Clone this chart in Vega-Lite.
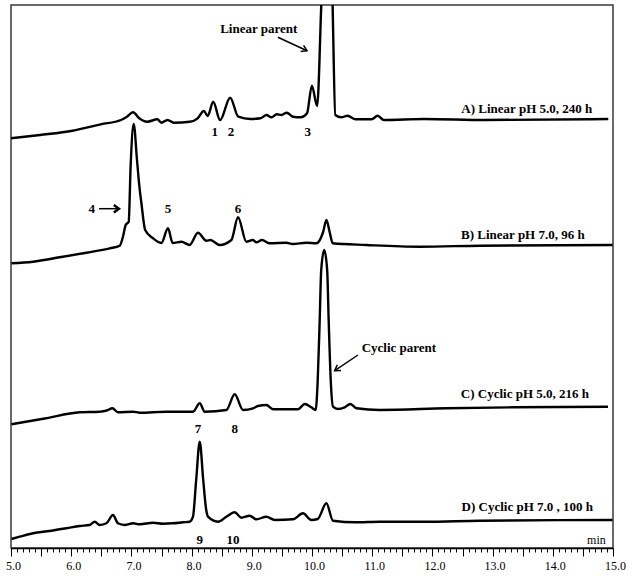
{
  "$schema": "https://vega.github.io/schema/vega-lite/v6.json",
  "width": 602,
  "height": 543,
  "autosize": {"type": "none"},
  "padding": {"left": 11, "top": 5, "right": 21, "bottom": 28},
  "background": "white",
  "config": {"view": {"stroke": "#3a3a3a", "strokeWidth": 1.5}},
  "resolve": {"axis": {"x": "independent"}},
  "datasets": {
    "traces": [
      {"trace":"A","t":5.0,"v":409.7},{"trace":"A","t":5.483,"v":413},{"trace":"A","t":6.022,"v":417.3},{"trace":"A","t":6.49,"v":423.7},{"trace":"A","t":6.827,"v":428},{"trace":"A","t":6.92,"v":431},{"trace":"A","t":7.028,"v":435.7},{"trace":"A","t":7.13,"v":429.7},{"trace":"A","t":7.264,"v":426.3},{"trace":"A","t":7.432,"v":428.7},{"trace":"A","t":7.498,"v":425.3},{"trace":"A","t":7.6,"v":428},{"trace":"A","t":7.703,"v":425.3},{"trace":"A","t":7.969,"v":426.3},{"trace":"A","t":8.101,"v":429.7},{"trace":"A","t":8.204,"v":437},{"trace":"A","t":8.267,"v":432},{"trace":"A","t":8.359,"v":446.3},{"trace":"A","t":8.473,"v":428},{"trace":"A","t":8.641,"v":450.3},{"trace":"A","t":8.776,"v":431.3},{"trace":"A","t":8.977,"v":429},{"trace":"A","t":9.144,"v":429.7},{"trace":"A","t":9.246,"v":433},{"trace":"A","t":9.326,"v":430.7},{"trace":"A","t":9.414,"v":433.7},{"trace":"A","t":9.493,"v":433},{"trace":"A","t":9.581,"v":435.3},{"trace":"A","t":9.683,"v":431.3},{"trace":"A","t":9.816,"v":430.7},{"trace":"A","t":9.917,"v":434.7},{"trace":"A","t":9.998,"v":462.3},{"trace":"A","t":10.085,"v":442},{"trace":"A","t":10.166,"v":560},{"trace":"A","t":10.251,"v":620},{"trace":"A","t":10.334,"v":560},{"trace":"A","t":10.387,"v":433},{"trace":"A","t":10.488,"v":430.7},{"trace":"A","t":10.59,"v":432.3},{"trace":"A","t":10.723,"v":428.7},{"trace":"A","t":10.992,"v":428.7},{"trace":"A","t":11.091,"v":432.3},{"trace":"A","t":11.193,"v":428},{"trace":"A","t":11.865,"v":429},{"trace":"A","t":12.872,"v":428},{"trace":"A","t":14.922,"v":429},
      {"trace":"B","t":5.007,"v":284.7},{"trace":"B","t":5.365,"v":286.3},{"trace":"B","t":5.809,"v":290.7},{"trace":"B","t":6.252,"v":295.3},{"trace":"B","t":6.64,"v":299.7},{"trace":"B","t":6.806,"v":302.3},{"trace":"B","t":6.86,"v":311.3},{"trace":"B","t":6.905,"v":323},{"trace":"B","t":6.955,"v":326.3},{"trace":"B","t":6.988,"v":383},{"trace":"B","t":7.038,"v":424},{"trace":"B","t":7.093,"v":388},{"trace":"B","t":7.13,"v":363},{"trace":"B","t":7.166,"v":345},{"trace":"B","t":7.229,"v":318},{"trace":"B","t":7.354,"v":310},{"trace":"B","t":7.498,"v":305},{"trace":"B","t":7.608,"v":319.7},{"trace":"B","t":7.686,"v":305},{"trace":"B","t":7.831,"v":306.3},{"trace":"B","t":7.968,"v":303},{"trace":"B","t":8.106,"v":315.3},{"trace":"B","t":8.246,"v":307.3},{"trace":"B","t":8.312,"v":308},{"trace":"B","t":8.467,"v":303},{"trace":"B","t":8.661,"v":308},{"trace":"B","t":8.771,"v":330.7},{"trace":"B","t":8.91,"v":306.3},{"trace":"B","t":9.015,"v":308},{"trace":"B","t":9.076,"v":305.7},{"trace":"B","t":9.169,"v":308},{"trace":"B","t":9.297,"v":304.7},{"trace":"B","t":9.575,"v":305.3},{"trace":"B","t":9.679,"v":304},{"trace":"B","t":9.907,"v":305.3},{"trace":"B","t":10.073,"v":304.7},{"trace":"B","t":10.185,"v":316},{"trace":"B","t":10.239,"v":328},{"trace":"B","t":10.293,"v":316},{"trace":"B","t":10.344,"v":304.7},{"trace":"B","t":10.904,"v":303},{"trace":"B","t":11.789,"v":301.3},{"trace":"B","t":12.786,"v":302.3},{"trace":"B","t":14.995,"v":303},
      {"trace":"C","t":5.007,"v":123.7},{"trace":"C","t":5.56,"v":129.5},{"trace":"C","t":6.141,"v":135.7},{"trace":"C","t":6.473,"v":136.3},{"trace":"C","t":6.59,"v":137.5},{"trace":"C","t":6.684,"v":139.7},{"trace":"C","t":6.777,"v":135.7},{"trace":"C","t":7.027,"v":136.3},{"trace":"C","t":7.138,"v":135.3},{"trace":"C","t":7.581,"v":136.3},{"trace":"C","t":8.023,"v":136.3},{"trace":"C","t":8.135,"v":144.7},{"trace":"C","t":8.218,"v":136.3},{"trace":"C","t":8.578,"v":138},{"trace":"C","t":8.716,"v":153.7},{"trace":"C","t":8.854,"v":138},{"trace":"C","t":9.02,"v":139.7},{"trace":"C","t":9.103,"v":142},{"trace":"C","t":9.243,"v":143},{"trace":"C","t":9.352,"v":138.7},{"trace":"C","t":9.767,"v":138.7},{"trace":"C","t":9.879,"v":144},{"trace":"C","t":9.99,"v":140.7},{"trace":"C","t":10.061,"v":138},{"trace":"C","t":10.095,"v":168},{"trace":"C","t":10.128,"v":228},{"trace":"C","t":10.153,"v":278},{"trace":"C","t":10.203,"v":298},{"trace":"C","t":10.252,"v":278},{"trace":"C","t":10.277,"v":228},{"trace":"C","t":10.311,"v":168},{"trace":"C","t":10.349,"v":141.3},{"trace":"C","t":10.432,"v":139},{"trace":"C","t":10.543,"v":140.7},{"trace":"C","t":10.638,"v":144},{"trace":"C","t":10.738,"v":139.7},{"trace":"C","t":11.125,"v":138},{"trace":"C","t":12.233,"v":139.7},{"trace":"C","t":13.339,"v":140.7},{"trace":"C","t":14.917,"v":141.3},
      {"trace":"D","t":5.007,"v":9},{"trace":"D","t":5.145,"v":11.3},{"trace":"D","t":5.365,"v":14.7},{"trace":"D","t":5.643,"v":17},{"trace":"D","t":5.92,"v":19.7},{"trace":"D","t":6.141,"v":22},{"trace":"D","t":6.307,"v":23},{"trace":"D","t":6.39,"v":26.3},{"trace":"D","t":6.473,"v":23},{"trace":"D","t":6.585,"v":24.7},{"trace":"D","t":6.694,"v":33},{"trace":"D","t":6.777,"v":24.7},{"trace":"D","t":6.889,"v":23},{"trace":"D","t":7.027,"v":24.7},{"trace":"D","t":7.138,"v":23.7},{"trace":"D","t":7.359,"v":25.3},{"trace":"D","t":7.525,"v":24.3},{"trace":"D","t":7.691,"v":24.7},{"trace":"D","t":7.857,"v":25.7},{"trace":"D","t":7.968,"v":26.3},{"trace":"D","t":8.023,"v":31.3},{"trace":"D","t":8.076,"v":68},{"trace":"D","t":8.135,"v":106.3},{"trace":"D","t":8.193,"v":68},{"trace":"D","t":8.243,"v":38},{"trace":"D","t":8.272,"v":31.3},{"trace":"D","t":8.439,"v":26.3},{"trace":"D","t":8.578,"v":31.3},{"trace":"D","t":8.716,"v":35.7},{"trace":"D","t":8.827,"v":30.3},{"trace":"D","t":8.965,"v":32.3},{"trace":"D","t":9.076,"v":28.7},{"trace":"D","t":9.243,"v":31.3},{"trace":"D","t":9.38,"v":28},{"trace":"D","t":9.684,"v":28.7},{"trace":"D","t":9.85,"v":34.7},{"trace":"D","t":9.99,"v":28},{"trace":"D","t":10.095,"v":29},{"trace":"D","t":10.239,"v":44.7},{"trace":"D","t":10.349,"v":27.3},{"trace":"D","t":10.723,"v":25.7},{"trace":"D","t":11.125,"v":26.3},{"trace":"D","t":11.866,"v":26.3},{"trace":"D","t":12.786,"v":27.3},{"trace":"D","t":14.993,"v":28}
    ],
    "rightLabels": [
      {"t":14.655,"v":438.7,"label":"A)  Linear pH 5.0, 240 h"},
      {"t":14.53,"v":313,"label":"B)  Linear pH 7.0, 96 h"},
      {"t":14.601,"v":153.7,"label":"C)  Cyclic pH 5.0, 216 h"},
      {"t":14.668,"v":41.3,"label":"D)  Cyclic pH 7.0 , 100 h"}
    ],
    "centerLabels": [
      {"t":9.115,"v":518.7,"label":"Linear parent"},
      {"t":8.384,"v":416.3,"label":"1"},
      {"t":8.654,"v":416.3,"label":"2"},
      {"t":9.929,"v":416.3,"label":"3"},
      {"t":6.341,"v":339,"label":"4"},
      {"t":7.608,"v":338.7,"label":"5"},
      {"t":8.771,"v":338.7,"label":"6"},
      {"t":11.444,"v":200.3,"label":"Cyclic parent"},
      {"t":8.106,"v":118.7,"label":"7"},
      {"t":8.716,"v":118.7,"label":"8"},
      {"t":8.135,"v":8,"label":"9"},
      {"t":8.688,"v":8,"label":"10"}
    ],
    "unitLabel": [{"t":14.879,"v":8,"label":"min"}],
    "arrows": [
      {"id":"lp","t1":9.434,"v1":510.7,"t2":9.917,"v2":497.3},
      {"id":"cp","t1":10.764,"v1":193,"t2":10.377,"v2":177.3},
      {"id":"p4","t1":6.462,"v1":339.3,"t2":6.794,"v2":339.3}
    ]
  },
  "layer": [
    {
      "data": {"name": "traces"},
      "mark": {"type": "line", "interpolate": "monotone", "color": "black", "strokeWidth": 2.4, "clip": true, "strokeJoin": "round"},
      "encoding": {
        "x": {
          "field": "t", "type": "quantitative",
          "scale": {"domain": [5, 15], "nice": false, "zero": false},
          "axis": {
            "orient": "bottom",
            "title": null,
            "grid": false,
            "values": [5,5.5,6,6.5,7,7.5,8,8.5,9,9.5,10,10.5,11,11.5,12,12.5,13,13.5,14,14.5,15],
            "tickSize": 8,
            "labelExpr": "datum.value % 1 === 0 ? format(datum.value, '.1f') : ''",
            "labelOverlap": false,
            "labelFlush": false,
            "labelBound": false,
            "labelFont": "Liberation Serif",
            "labelFontSize": 12,
            "labelColor": "black",
            "labelPadding": 4,
            "labelOffset": 2,
            "domainColor": "black",
            "domainWidth": 1.5,
            "tickColor": "black",
            "tickWidth": 1
          }
        },
        "y": {"field": "v", "type": "quantitative", "scale": {"domain": [0, 543], "nice": false, "zero": false}, "axis": null},
        "detail": {"field": "trace"}
      }
    },
    {
      "data": {"name": "arrows"},
      "mark": {"type": "rule", "color": "black", "strokeWidth": 1.5},
      "encoding": {
        "x": {
          "field": "t1", "type": "quantitative",
          "axis": {
            "orient": "bottom",
            "title": null,
            "grid": false,
            "values": [5,5.1,5.2,5.3,5.4,5.5,5.6,5.7,5.8,5.9,6,6.1,6.2,6.3,6.4,6.5,6.6,6.7,6.8,6.9,7,7.1,7.2,7.3,7.4,7.5,7.6,7.7,7.8,7.9,8,8.1,8.2,8.3,8.4,8.5,8.6,8.7,8.8,8.9,9,9.1,9.2,9.3,9.4,9.5,9.6,9.7,9.8,9.9,10,10.1,10.2,10.3,10.4,10.5,10.6,10.7,10.8,10.9,11,11.1,11.2,11.3,11.4,11.5,11.6,11.7,11.8,11.9,12,12.1,12.2,12.3,12.4,12.5,12.6,12.7,12.8,12.9,13,13.1,13.2,13.3,13.4,13.5,13.6,13.7,13.8,13.9,14,14.1,14.2,14.3,14.4,14.5,14.6,14.7,14.8,14.9,15],
            "tickSize": 4,
            "labels": false,
            "domain": false,
            "tickColor": "black",
            "tickWidth": 1
          }
        },
        "x2": {"field": "t2"},
        "y": {"field": "v1", "type": "quantitative"},
        "y2": {"field": "v2"},
        "strokeWidth": {"condition": {"test": "datum.id === 'p4'", "value": 2.4}, "value": 1.5}
      }
    },
    {
      "data": {"name": "arrows"},
      "transform": [{"filter": "datum.id === 'lp'"}],
      "mark": {"type": "point", "shape": "M-1.6,-1L0,0L-1.6,1", "filled": false, "color": "black", "strokeWidth": 1.5, "size": 45, "angle": 25, "opacity": 1},
      "encoding": {"x": {"field": "t2", "type": "quantitative", "axis": null}, "y": {"field": "v2", "type": "quantitative"}}
    },
    {
      "data": {"name": "arrows"},
      "transform": [{"filter": "datum.id === 'cp'"}],
      "mark": {"type": "point", "shape": "M-1.6,-1L0,0L-1.6,1", "filled": false, "color": "black", "strokeWidth": 1.5, "size": 45, "angle": 146, "opacity": 1},
      "encoding": {"x": {"field": "t2", "type": "quantitative", "axis": null}, "y": {"field": "v2", "type": "quantitative"}}
    },
    {
      "data": {"name": "arrows"},
      "transform": [{"filter": "datum.id === 'p4'"}],
      "mark": {"type": "point", "shape": "M-1.4,-1L0,0L-1.4,1", "filled": false, "color": "black", "strokeWidth": 2.4, "size": 55, "angle": 0, "opacity": 1},
      "encoding": {"x": {"field": "t2", "type": "quantitative", "axis": null}, "y": {"field": "v2", "type": "quantitative"}}
    },
    {
      "data": {"name": "rightLabels"},
      "mark": {"type": "text", "align": "right", "baseline": "middle", "font": "Liberation Serif", "fontWeight": "bold", "fontSize": 13, "color": "black"},
      "encoding": {"x": {"field": "t", "type": "quantitative", "axis": null}, "y": {"field": "v", "type": "quantitative"}, "text": {"field": "label"}}
    },
    {
      "data": {"name": "centerLabels"},
      "mark": {"type": "text", "align": "center", "baseline": "middle", "font": "Liberation Serif", "fontWeight": "bold", "fontSize": 13, "color": "black"},
      "encoding": {"x": {"field": "t", "type": "quantitative", "axis": null}, "y": {"field": "v", "type": "quantitative"}, "text": {"field": "label"}}
    },
    {
      "data": {"name": "unitLabel"},
      "mark": {"type": "text", "align": "right", "baseline": "middle", "font": "Liberation Serif", "fontSize": 12, "color": "black"},
      "encoding": {"x": {"field": "t", "type": "quantitative", "axis": null}, "y": {"field": "v", "type": "quantitative"}, "text": {"field": "label"}}
    }
  ]
}
